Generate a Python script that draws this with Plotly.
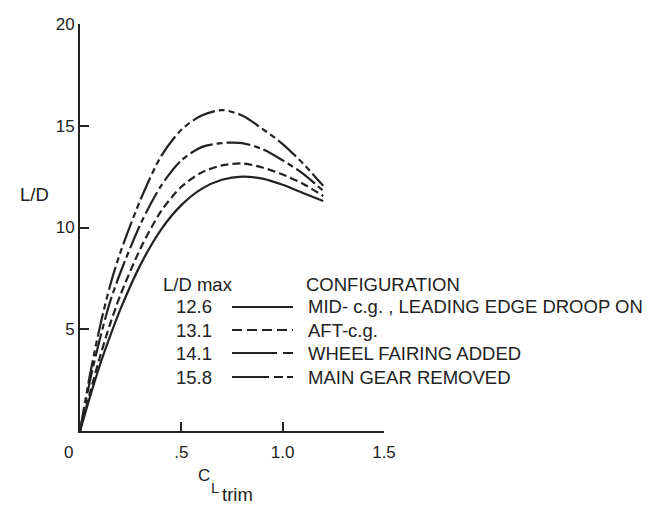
import plotly.graph_objects as go

# ---- data ----
cl = [0, 0.05, 0.10, 0.15, 0.20, 0.30, 0.40, 0.50, 0.60, 0.70, 0.80, 0.90, 1.00, 1.10, 1.20]

ld_mid = [0, 1.7, 3.3, 4.7, 6.0, 8.2, 9.9, 11.1, 11.9, 12.35, 12.5, 12.4, 12.1, 11.7, 11.3]
ld_aft = [0, 1.9, 3.7, 5.3, 6.7, 9.0, 10.8, 12.0, 12.7, 13.05, 13.15, 12.95, 12.6, 12.15, 11.55]
ld_wheel = [0, 2.5, 4.6, 6.4, 7.8, 10.2, 12.05, 13.3, 13.95, 14.15, 14.15, 13.85, 13.3, 12.65, 11.8]
ld_gear = [0, 2.8, 5.2, 7.2, 8.8, 11.4, 13.5, 14.8, 15.5, 15.77, 15.5, 14.85, 14.1, 13.15, 12.05]

ld_max_labels = ["12.6", "13.1", "14.1", "15.8"]
config_labels = ["MID- c.g. , LEADING EDGE DROOP ON", "AFT-c.g.",
                 "WHEEL FAIRING ADDED", "MAIN GEAR REMOVED"]

x_ticks = [0.5, 1.0, 1.5]
x_ticktext = [".5", "1.0", "1.5"]
y_ticks = [5, 10, 15, 20]

series = [ld_mid, ld_aft, ld_wheel, ld_gear]
dashes = ["solid", "8px,4px", "24px,4px,6px,4px", "24px,4px,6px,4px,6px,4px"]
legend_dashes = ["solid", "10px,5px", "45px,6px,10px,10px", "37px,5px,9px,4px,10px,10px"]

INK = "#222222"
FONT = "Liberation Sans, Arial, sans-serif"
FS = 18.5
TFS = 17

fig = go.Figure()
for ys, d, name in zip(series, dashes, config_labels):
    fig.add_trace(go.Scatter(x=cl, y=ys, mode="lines", name=name,
                             line=dict(color=INK, width=2.2, dash=d,
                                       shape="spline", smoothing=0.8),
                             showlegend=False))

# plot-area pixel geometry helpers (plot area 80..384 x, 24..431 y)
def px_x(px):
    return (px - 80) / 304.0

def px_y(py):
    return (431 - py) / 407.0

ann = []
shapes = []
ann.append(dict(text="L/D max", x=px_x(162), y=px_y(284), xanchor="left", yanchor="middle"))
ann.append(dict(text="CONFIGURATION", x=px_x(305), y=px_y(284), xanchor="left", yanchor="middle"))
row_y = [307, 330, 353, 377]
for lab, cfg, ld, ry in zip(ld_max_labels, config_labels, legend_dashes, row_y):
    ann.append(dict(text=lab, x=px_x(213), y=px_y(ry), xanchor="right", yanchor="middle"))
    ann.append(dict(text=cfg, x=px_x(307), y=px_y(ry), xanchor="left", yanchor="middle"))
    shapes.append(dict(type="line", xref="paper", yref="paper",
                       x0=px_x(232), x1=px_x(293), y0=px_y(ry), y1=px_y(ry),
                       line=dict(color=INK, width=2, dash=ld)))

# axis titles
ann.append(dict(text="L/D", x=px_x(34), y=px_y(194), xanchor="center", yanchor="middle"))
ann.append(dict(text="C", x=px_x(211), y=px_y(475), xanchor="right", yanchor="middle", font_size=17))
ann.append(dict(text="L", x=px_x(210), y=px_y(487), xanchor="left", yanchor="middle", font_size=15))
ann.append(dict(text="trim", x=px_x(221), y=px_y(494), xanchor="left", yanchor="middle"))
# origin label
ann.append(dict(text="0", x=px_x(68), y=px_y(452), xanchor="center", yanchor="middle", font_size=TFS))

for a in ann:
    a.setdefault("xref", "paper")
    a.setdefault("yref", "paper")
    a["showarrow"] = False
    a["borderpad"] = 0
    f = dict(family=FONT, size=FS, color=INK)
    if "font_size" in a:
        f["size"] = a.pop("font_size")
    a["font"] = f

fig.update_layout(
    width=649, height=509,
    margin=dict(l=80, r=265, t=24, b=78),
    paper_bgcolor="white", plot_bgcolor="white",
    font=dict(family=FONT, size=FS, color=INK),
    annotations=ann, shapes=shapes,
    xaxis=dict(range=[0, 1.5], tickvals=x_ticks, ticktext=x_ticktext,
               showline=True, linecolor=INK, linewidth=2, ticks="inside",
               ticklen=9, tickwidth=2, tickcolor=INK, showgrid=False,
               zeroline=False, ticklabelstandoff=5,
               tickfont=dict(family=FONT, size=TFS, color=INK)),
    yaxis=dict(range=[0, 20], tickvals=y_ticks,
               showline=True, linecolor=INK, linewidth=2, ticks="inside",
               ticklen=9, tickwidth=2, tickcolor=INK, showgrid=False,
               zeroline=False,
               tickfont=dict(family=FONT, size=TFS, color=INK)),
)

fig.write_html("out.html")
